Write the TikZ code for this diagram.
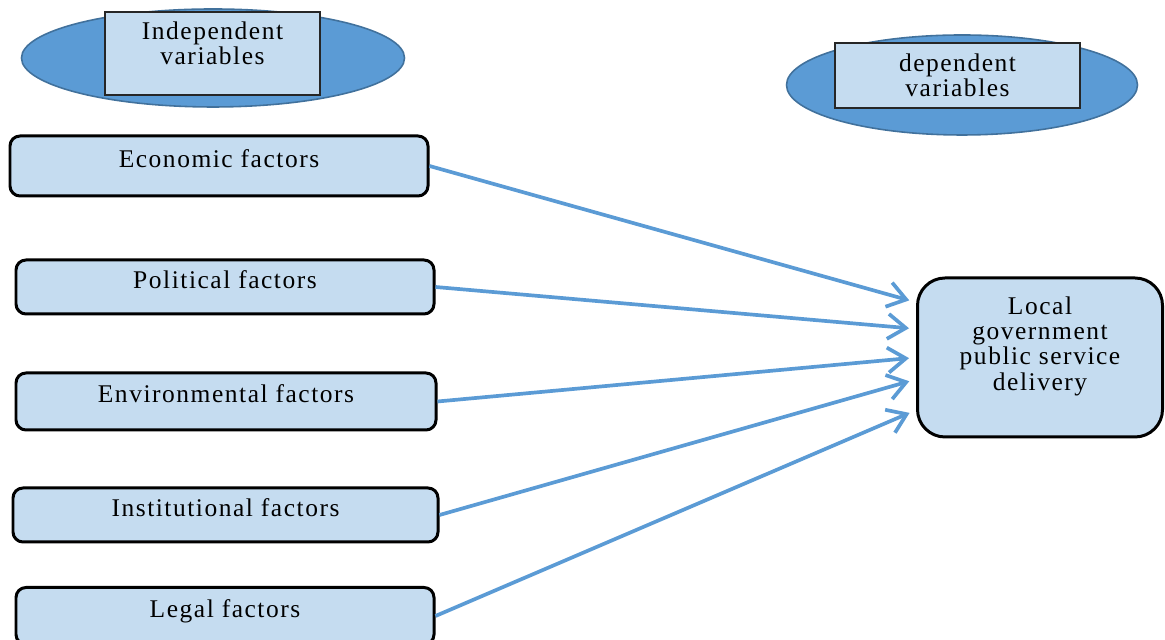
\documentclass[tikz,border=0pt]{standalone}
\usepackage{fontspec}
\setmainfont{Liberation Serif}[LetterSpace=6]
\usepackage{xcolor}
\definecolor{ovalblue}{RGB}{91,155,213}
\definecolor{ovaledge}{RGB}{65,113,156}
\definecolor{boxblue}{RGB}{197,220,240}
\definecolor{linkblue}{RGB}{91,155,213}
\usetikzlibrary{arrows.meta, shapes.geometric}
\newcommand{\lblfont}{\fontsize{14.5}{14.3}\selectfont}

\tikzset{
  oval/.style={ellipse, draw=ovaledge, fill=ovalblue, line width=0.9pt, inner sep=0pt},
  varbox/.style={rectangle, draw=black!85, fill=boxblue, line width=0.8pt, align=center, font=\lblfont},
  factor/.style={rectangle, rounded corners=0.2cm, draw=black, fill=boxblue, line width=1.7pt,
    text height=0.32cm, text depth=0.26cm, font=\lblfont},
  link/.style={-{Straight Barb[length=0.36cm, width=0.5cm]}, linkblue, line width=2.1pt, shorten >=0.14cm}
}

\begin{document}
\begin{tikzpicture}
  \useasboundingbox (0,0) rectangle (23.3,12.8);

  % Variable headers
  \node[oval, minimum width=7.66cm, minimum height=1.96cm] (indoval) at (4.26,11.64) {};
  \node[varbox, minimum width=4.3cm, minimum height=1.66cm, text depth=0.42cm] (indep) at (4.25,11.73) {Independent\\variables};
  \node[oval, minimum width=7.02cm, minimum height=2.0cm] (depoval) at (19.24,11.1) {};
  \node[varbox, minimum width=4.9cm, minimum height=1.3cm] (dep) at (19.15,11.29) {dependent\\variables};

  % Factors
  \node[factor, minimum width=8.36cm, minimum height=1.2cm]  (eco)   at (4.38,9.48) {Economic factors};
  \node[factor, minimum width=8.36cm, minimum height=1.08cm] (pol)   at (4.5,7.06)  {Political factors};
  \node[factor, minimum width=8.4cm,  minimum height=1.14cm] (env)   at (4.52,4.77) {Environmental factors};
  \node[factor, minimum width=8.5cm,  minimum height=1.08cm] (inst)  at (4.51,2.5)  {Institutional factors};
  \node[factor, minimum width=8.36cm, minimum height=1.14cm] (legal) at (4.5,0.48)  {Legal factors};

  % Outcome
  \node[factor, rounded corners=0.55cm, align=center, minimum width=4.9cm, minimum height=3.18cm,
    text height=, text depth=0.56cm] (lgov) at (20.8,5.65) {Local\\government\\public service\\delivery};

  % Links
  \draw[link] (eco.east)   -- (lgov.156);
  \draw[link] (pol.east)   -- (lgov.167);
  \draw[link] (env.east)   -- (lgov.180);
  \draw[link] (inst.east)  -- (lgov.190);
  \draw[link] (legal.east) -- (lgov.203);
\end{tikzpicture}
\end{document}
